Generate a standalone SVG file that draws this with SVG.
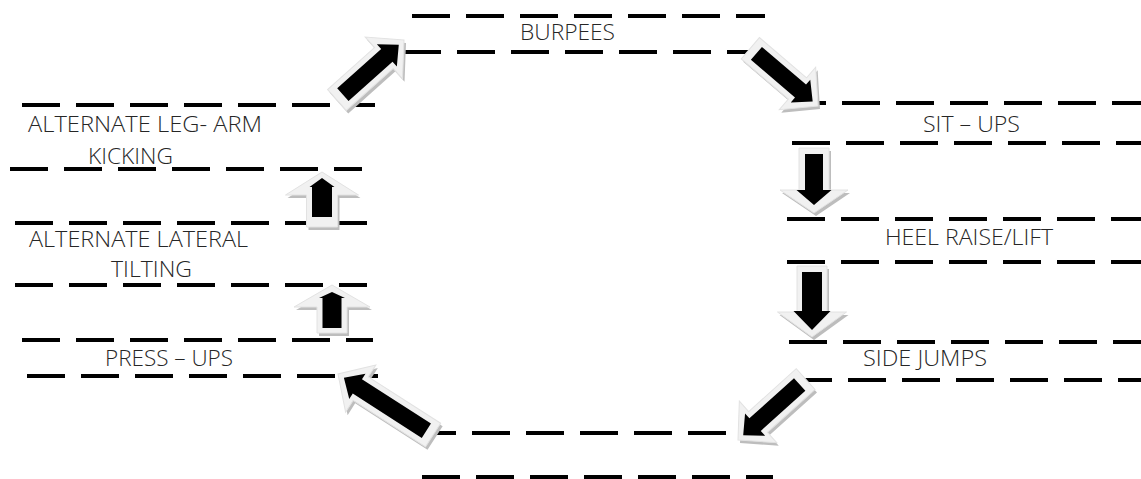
<svg xmlns="http://www.w3.org/2000/svg" width="1141" height="479" viewBox="0 0 1141 479">
<style>
.rule{stroke:#000;stroke-width:4;stroke-dasharray:38 16;fill:none}
.lbl{font-family:"Open Sans","Liberation Sans",sans-serif;font-size:22px;fill:#262626;font-weight:300}
.shadow{fill:#bdbdbd}
.bevel{fill:#f1f1f1;stroke:#e2e2e2;stroke-width:1}
.core{fill:#000}
</style>
<rect width="1141" height="479" fill="#fff"/>
<g id="node-burpees">
<line class="rule" x1="412" y1="16" x2="765" y2="16"/>
<line class="rule" x1="403" y1="52" x2="765" y2="52"/>
<text class="lbl" x="520" y="40" textLength="95" lengthAdjust="spacingAndGlyphs">BURPEES</text>
</g>
<g id="node-situps">
<line class="rule" x1="788" y1="103" x2="1141" y2="103"/>
<line class="rule" x1="792" y1="143" x2="1141" y2="143"/>
<text class="lbl" x="923" y="132" textLength="97" lengthAdjust="spacingAndGlyphs">SIT – UPS</text>
</g>
<g id="node-heel">
<line class="rule" x1="787" y1="219" x2="1141" y2="219"/>
<line class="rule" x1="787" y1="262" x2="1141" y2="262"/>
<text class="lbl" x="885" y="245" textLength="168" lengthAdjust="spacingAndGlyphs">HEEL RAISE/LIFT</text>
</g>
<g id="node-sidejumps">
<line class="rule" x1="789" y1="342" x2="1141" y2="342"/>
<line class="rule" x1="794" y1="380" x2="1141" y2="380"/>
<text class="lbl" x="863" y="366" textLength="124" lengthAdjust="spacingAndGlyphs">SIDE JUMPS</text>
</g>
<g id="node-bottom">
<line class="rule" x1="418" y1="433" x2="770" y2="433"/>
<line class="rule" x1="422" y1="477" x2="773" y2="477"/>
</g>
<g id="node-pressups">
<line class="rule" x1="22" y1="340" x2="373" y2="340"/>
<line class="rule" x1="27" y1="376" x2="378" y2="376"/>
<text class="lbl" x="105" y="366" textLength="128" lengthAdjust="spacingAndGlyphs">PRESS – UPS</text>
</g>
<g id="node-lateral">
<line class="rule" x1="15" y1="223" x2="367" y2="223"/>
<line class="rule" x1="15" y1="285" x2="367" y2="285"/>
<text class="lbl" x="29" y="247" textLength="219" lengthAdjust="spacingAndGlyphs">ALTERNATE LATERAL</text>
<text class="lbl" x="111" y="277" textLength="81" lengthAdjust="spacingAndGlyphs">TILTING</text>
</g>
<g id="node-legarm">
<line class="rule" x1="22" y1="105" x2="375" y2="105"/>
<line class="rule" x1="10" y1="169" x2="362" y2="169"/>
<text class="lbl" x="28" y="132" textLength="234" lengthAdjust="spacingAndGlyphs">ALTERNATE LEG- ARM</text>
<text class="lbl" x="88" y="164" textLength="85" lengthAdjust="spacingAndGlyphs">KICKING</text>
</g>
<g id="connectors">
<g id="arrow-legarm-burpees">
<path class="shadow" transform="translate(406,43) rotate(-41.8)" d="M0,0 L-27,-28 L-27,-14 L-90,-14 L-90,14 L-27,14 L-27,28 Z"/>
<path class="bevel" transform="translate(404,40) rotate(-41.8)" d="M0,0 L-27,-28 L-27,-14 L-90,-14 L-90,14 L-27,14 L-27,28 Z"/>
<path class="core" transform="translate(404,40) rotate(-41.8)" d="M-7,0 L-23,-15 L-23,-8.5 L-82,-8.5 L-82,8.5 L-23,8.5 L-23,15 Z"/>
</g>
<g id="arrow-burpees-situps">
<path class="shadow" transform="translate(820,109) rotate(40.5)" d="M0,0 L-27,-28 L-27,-14 L-89,-14 L-89,14 L-27,14 L-27,28 Z"/>
<path class="bevel" transform="translate(818,106) rotate(40.5)" d="M0,0 L-27,-28 L-27,-14 L-89,-14 L-89,14 L-27,14 L-27,28 Z"/>
<path class="core" transform="translate(818,106) rotate(40.5)" d="M-7,0 L-23,-15 L-23,-8.5 L-81,-8.5 L-81,8.5 L-23,8.5 L-23,15 Z"/>
</g>
<g id="arrow-situps-heel">
<path class="shadow" transform="translate(816,216) rotate(90)" d="M0,0 L-23,-34 L-23,-15 L-65,-15 L-65,15 L-23,15 L-23,34 Z"/>
<path class="bevel" transform="translate(814,213) rotate(90)" d="M0,0 L-23,-34 L-23,-15 L-65,-15 L-65,15 L-23,15 L-23,34 Z"/>
<path class="core" transform="translate(814,213) rotate(90)" d="M-8,0 L-23,-17.5 L-23,-9 L-59,-9 L-59,9 L-23,9 L-23,17.5 Z"/>
</g>
<g id="arrow-heel-sidejumps">
<path class="shadow" transform="translate(814,340) rotate(90)" d="M0,0 L-25,-34.5 L-25,-15 L-71,-15 L-71,15 L-25,15 L-25,34.5 Z"/>
<path class="bevel" transform="translate(812,337) rotate(90)" d="M0,0 L-25,-34.5 L-25,-15 L-71,-15 L-71,15 L-25,15 L-25,34.5 Z"/>
<path class="core" transform="translate(812,337) rotate(90)" d="M-7,0 L-26,-18.5 L-26,-10 L-65,-10 L-65,10 L-26,10 L-26,18.5 Z"/>
</g>
<g id="arrow-sidejumps-bottom">
<path class="shadow" transform="translate(740,443) rotate(138)" d="M0,0 L-27,-28 L-27,-14 L-91,-14 L-91,14 L-27,14 L-27,28 Z"/>
<path class="bevel" transform="translate(738,440) rotate(138)" d="M0,0 L-27,-28 L-27,-14 L-91,-14 L-91,14 L-27,14 L-27,28 Z"/>
<path class="core" transform="translate(738,440) rotate(138)" d="M-7,0 L-23,-15 L-23,-8.5 L-83,-8.5 L-83,8.5 L-23,8.5 L-23,15 Z"/>
</g>
<g id="arrow-bottom-pressups">
<path class="shadow" transform="translate(340,377) rotate(-147.3)" d="M0,0 L-27,-28 L-27,-14 L-113,-14 L-113,14 L-27,14 L-27,28 Z"/>
<path class="bevel" transform="translate(338,374) rotate(-147.3)" d="M0,0 L-27,-28 L-27,-14 L-113,-14 L-113,14 L-27,14 L-27,28 Z"/>
<path class="core" transform="translate(338,374) rotate(-147.3)" d="M-7,0 L-23,-15 L-23,-8.5 L-105,-8.5 L-105,8.5 L-23,8.5 L-23,15 Z"/>
</g>
<g id="arrow-pressups-lateral">
<path class="shadow" transform="translate(334,288) rotate(-90)" d="M0,0 L-22,-38 L-22,-15 L-48,-15 L-48,15 L-22,15 L-22,38 Z"/>
<path class="bevel" transform="translate(332,285) rotate(-90)" d="M0,0 L-22,-38 L-22,-15 L-48,-15 L-48,15 L-22,15 L-22,38 Z"/>
<path class="core" transform="translate(332,285) rotate(-90)" d="M-7,0 L-13,-13 L-13,-9.5 L-43,-9.5 L-43,9.5 L-13,9.5 L-13,13 Z"/>
</g>
<g id="arrow-lateral-legarm">
<path class="shadow" transform="translate(324,175) rotate(-90)" d="M0,0 L-23,-36.5 L-23,-15.5 L-55,-15.5 L-55,15.5 L-23,15.5 L-23,36.5 Z"/>
<path class="bevel" transform="translate(322,172) rotate(-90)" d="M0,0 L-23,-36.5 L-23,-15.5 L-55,-15.5 L-55,15.5 L-23,15.5 L-23,36.5 Z"/>
<path class="core" transform="translate(322,172) rotate(-90)" d="M-6,0 L-15,-12.5 L-15,-10 L-45,-10 L-45,10 L-15,10 L-15,12.5 Z"/>
</g>
</g>
</svg>
